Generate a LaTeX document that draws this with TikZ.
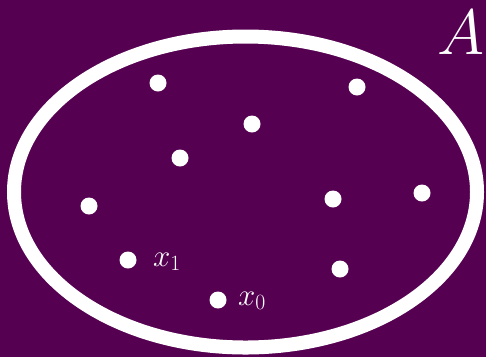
\RequirePackage{fix-cm}
\documentclass[tikz,border=0pt]{standalone}
\usepackage{xcolor}
\usepackage{tikz}
\usetikzlibrary{positioning}

\definecolor{setpurple}{RGB}{86,0,82}

\begin{document}
\begin{tikzpicture}[
  x=1pt, y=-1pt,
  elem/.style={circle, fill=white, minimum size=17pt, inner sep=0pt},
  lbl/.style={text=white, anchor=base west, inner sep=0pt, font=\fontsize{31}{36}\selectfont},
  setname/.style={text=white, anchor=base west, inner sep=0pt, font=\fontsize{64}{72}\selectfont}
]
\fill[setpurple] (0,0) rectangle (486,357);
\useasboundingbox (0,0) rectangle (486,357);
% the set
\draw[white, line width=14pt] (245.5,192) ellipse [x radius=231.5, y radius=155.5];
\node[setname] (name) at (437,54) {$A$};
% elements
\node[elem] (p1) at (158,83) {};
\node[elem] (p2) at (357,87) {};
\node[elem] (p3) at (252,124) {};
\node[elem] (p4) at (180,158) {};
\node[elem] (p5) at (89,206) {};
\node[elem] (p6) at (333,199) {};
\node[elem] (p7) at (422,193) {};
\node[elem] (p8) at (128,260) {};
\node[elem] (p9) at (340,269) {};
\node[elem] (p10) at (218,300) {};
\node[lbl] (l1) at (153,266) {$x_1$};
\node[lbl] (l0) at (238,305) {$x_0$};
\end{tikzpicture}
\end{document}
